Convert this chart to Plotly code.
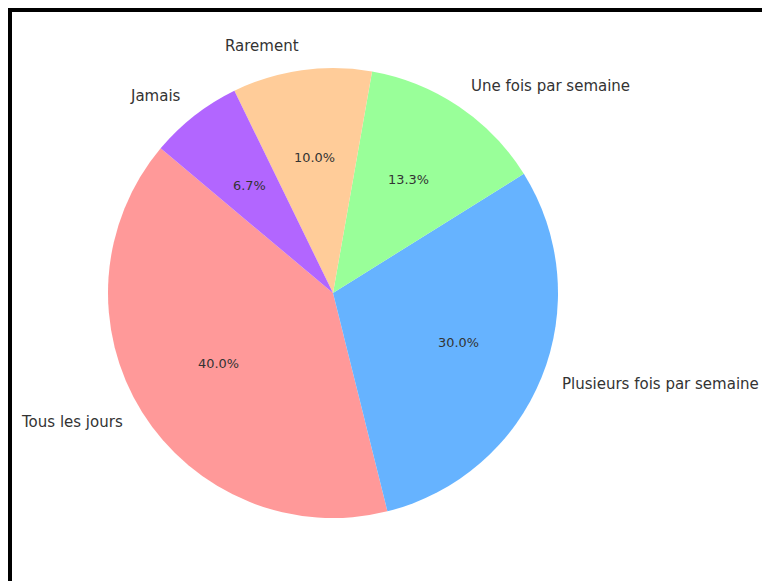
import numpy as np
import plotly.graph_objects as go

# Survey answers: how often respondents do the activity
categories = ["Tous les jours", "Plusieurs fois par semaine", "Une fois par semaine",
              "Rarement", "Jamais"]
counts = [12, 9, 4, 3, 2]
colors = ["#ff9999", "#66b3ff", "#99ff99", "#ffcc99", "#b266ff"]

W, H = 762, 581
CX, CY, R = 333, 293, 225          # pie centre and radius in pixels
START_ANGLE = 140                  # first slice starts here, counter-clockwise

vals = np.array(counts, dtype=float)
fracs = vals / vals.sum()

# plotly's counter-clockwise pie ends its first slice at the rotation angle
rotation = 90 - (START_ANGLE + 360 * fracs[0])

fig = go.Figure(go.Pie(
    labels=categories,
    values=counts,
    sort=False,
    direction="counterclockwise",
    rotation=rotation,
    marker=dict(colors=colors, line=dict(width=0)),
    textinfo="none",
    hoverinfo="label+percent",
    showlegend=False,
    domain=dict(x=[(CX - R) / W, (CX + R) / W],
                y=[1 - (CY + R) / H, 1 - (CY - R) / H]),
))

# Category labels outside the pie and percentages inside, placed at mid-angles
edges = START_ANGLE + 360 * np.concatenate([[0], np.cumsum(fracs)])
mids = np.deg2rad((edges[:-1] + edges[1:]) / 2)

annotations = []
for name, frac, a in zip(categories, fracs, mids):
    lx = CX + 1.1 * R * np.cos(a)
    ly = CY - 1.1 * R * np.sin(a)
    right_side = np.cos(a) > 0
    annotations.append(dict(
        x=lx / W, y=1 - ly / H, xref="paper", yref="paper",
        text=name, showarrow=False,
        xanchor="left" if right_side else "right", yanchor="middle",
        xshift=-2 if right_side else 2, yshift=2,
        font=dict(family="DejaVu Sans", size=15, color="#333333"),
    ))
    px = CX + 0.6 * R * np.cos(a)
    py = CY - 0.6 * R * np.sin(a)
    annotations.append(dict(
        x=px / W, y=1 - py / H, xref="paper", yref="paper",
        text=f"{frac * 100:.1f}%", showarrow=False,
        xanchor="center", yanchor="middle", yshift=1.5,
        font=dict(family="DejaVu Sans", size=12.9, color="#333333"),
    ))

fig.update_layout(
    width=W, height=H,
    margin=dict(l=0, r=0, t=0, b=0),
    paper_bgcolor="white",
    plot_bgcolor="white",
    annotations=annotations,
    shapes=[dict(type="rect", xref="paper", yref="paper",
                 x0=10 / W, x1=1.1, y0=-0.1, y1=1 - 10 / H,
                 line=dict(color="black", width=4))],
)

fig.write_html("out.html")
